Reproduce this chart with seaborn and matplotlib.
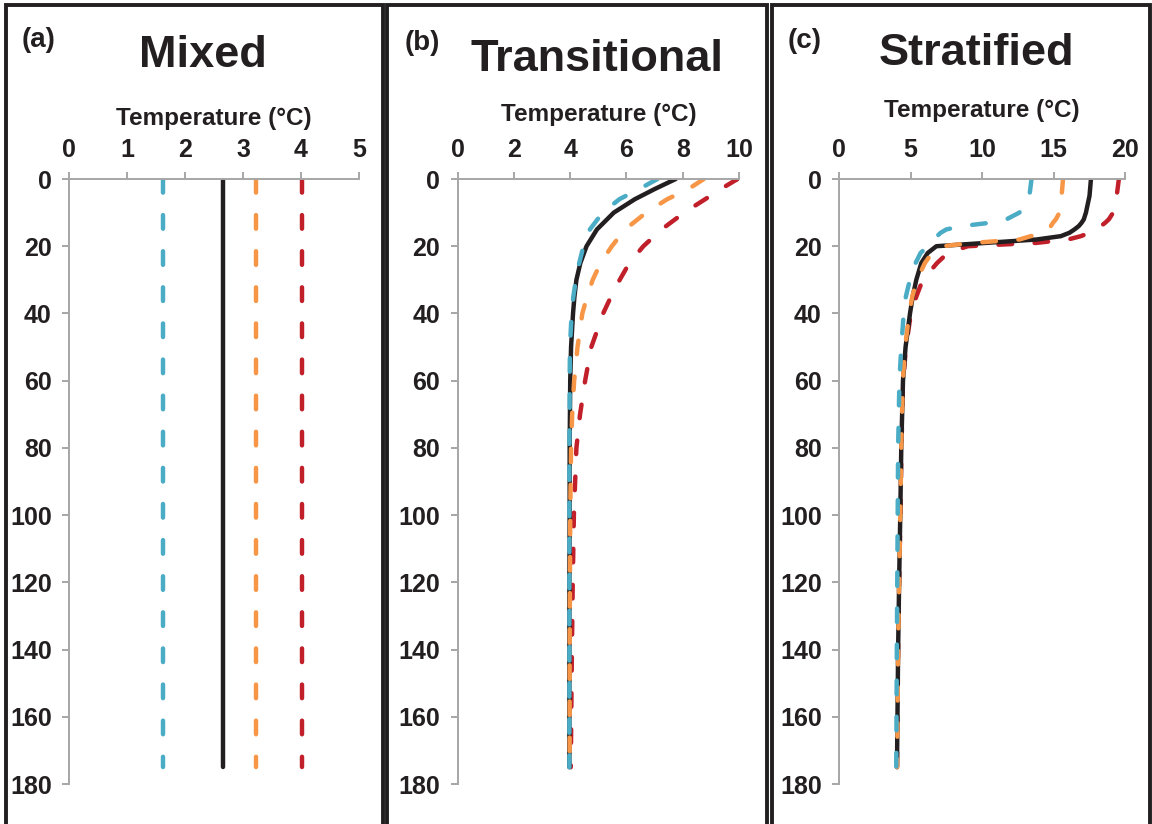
import matplotlib
matplotlib.use("Agg")
import matplotlib.pyplot as plt
from matplotlib.patches import Rectangle
import seaborn as sns

sns.set_theme(style="white")
plt.rcParams['font.family'] = ['Liberation Sans', 'DejaVu Sans']
plt.rcParams['font.weight'] = 'bold'
plt.rcParams['lines.scale_dashes'] = False

# ---------------- data ----------------
titles = ["Mixed", "Transitional", "Stratified"]
panel_labels = ["(a)", "(b)", "(c)"]
xlabel = "Temperature (°C)"
y_ticks = [0, 20, 40, 60, 80, 100, 120, 140, 160, 180]
x_ticks_a = [0, 1, 2, 3, 4, 5]
x_ticks_b = [0, 2, 4, 6, 8, 10]
x_ticks_c = [0, 5, 10, 15, 20]

# Panel (a): mixed
depth_a = [0, 175]
a_blue = [1.62, 1.62]
a_black = [2.65, 2.65]
a_orange = [3.22, 3.22]
a_red = [4.02, 4.02]

# Panel (b): transitional
depth_b = [0, 3, 6, 10, 15, 20, 25, 30, 35, 40, 50, 60, 70, 80, 100, 120, 140, 175]
b_black = [7.75, 7.0, 6.3, 5.55, 4.95, 4.58, 4.36, 4.22, 4.15, 4.1, 4.03, 4.0, 3.99, 3.98, 3.98, 3.97, 3.97, 3.97]
b_blue = [7.1, 6.45, 5.75, 5.15, 4.7, 4.47, 4.32, 4.2, 4.11, 4.05, 3.99, 3.98, 3.98, 3.97, 3.97, 3.97, 3.97, 3.97]
b_orange = [8.75, 8.2, 7.45, 6.7, 5.95, 5.48, 5.08, 4.8, 4.6, 4.43, 4.26, 4.14, 4.07, 4.03, 4.0, 3.99, 3.98, 3.98]
b_red = [9.95, 9.35, 8.8, 8.05, 7.25, 6.6, 6.1, 5.76, 5.45, 5.17, 4.75, 4.53, 4.35, 4.22, 4.13, 4.09, 4.06, 4.02]

# Panel (c): stratified
depth_c = [0, 5, 10, 12, 13, 14, 15, 16, 17, 18, 19, 20, 22, 25, 30, 35, 40, 50, 60, 80, 100, 120, 140, 175]
c_black = [17.6, 17.5, 17.25, 17.1, 16.95, 16.75, 16.45, 16.1, 15.5, 13.8, 10.3, 6.8, 6.2, 5.75, 5.4, 5.15, 4.96, 4.65, 4.47, 4.35, 4.28, 4.2, 4.13, 4.05]
c_blue = [13.45, 13.3, 12.6, 11.7, 10.6, 8.6, 7.5, 7.1, 6.85, 6.6, 6.4, 6.2, 5.7, 5.35, 4.95, 4.67, 4.52, 4.35, 4.22, 4.13, 4.1, 4.07, 4.04, 4.0]
c_orange = [15.65, 15.55, 15.4, 15.15, 14.95, 14.8, 14.6, 14.25, 13.4, 12.6, 9.4, 7.2, 6.5, 6.0, 5.45, 5.12, 4.9, 4.62, 4.46, 4.35, 4.28, 4.2, 4.13, 4.06]
c_red = [19.55, 19.4, 19.15, 18.85, 18.6, 18.3, 17.95, 17.5, 16.9, 16.0, 13.8, 9.0, 7.6, 6.85, 5.85, 5.4, 5.02, 4.68, 4.48, 4.36, 4.29, 4.2, 4.13, 4.05]

# ---------------- style ----------------
C_BLACK = "#231f20"
C_BLUE = "#4bacc6"
C_ORANGE = "#f79646"
C_RED = "#c1202b"
C_AXIS = "#a6a6a6"
LW = 3.2
DASH = (0, (9.8, 16.2))

W, H = 1152.0, 824.0
fig = plt.figure(figsize=(W / 100, H / 100), dpi=100)

def rect(left, right, top=179.0, bottom=784.0):
    return [left / W, 1 - bottom / H, (right - left) / W, (bottom - top) / H]

axes_rects = [rect(69, 359), rect(457.7, 739), rect(839, 1125.3)]
panels = [
    (depth_a, [("red", a_red), ("black", a_black), ("orange", a_orange), ("blue", a_blue)], (0, 5), x_ticks_a),
    (depth_b, [("red", b_red), ("black", b_black), ("orange", b_orange), ("blue", b_blue)], (0, 10), x_ticks_b),
    (depth_c, [("red", c_red), ("black", c_black), ("orange", c_orange), ("blue", c_blue)], (0, 20), x_ticks_c),
]
colors = {"red": C_RED, "black": C_BLACK, "orange": C_ORANGE, "blue": C_BLUE}
labelpads = [9, 12, 15]

for i, (r, (depth, series, xlim, xt)) in enumerate(zip(axes_rects, panels)):
    ax = fig.add_axes(r)
    for name, temps in series:
        sns.lineplot(x=temps, y=depth, sort=False, estimator=None, color=colors[name],
                     lw=LW, ax=ax)
        ln = ax.lines[-1]
        ln.set_solid_capstyle('round')
        ln.set_dash_capstyle('round')
        ln.set_solid_joinstyle('round')
        if name != "black":
            ln.set_linestyle(DASH)
    ax.set_xlim(*xlim)
    ax.set_ylim(180, 0)
    ax.set_xticks(xt)
    ax.set_yticks(y_ticks)
    ax.xaxis.tick_top()
    ax.xaxis.set_label_position('top')
    ax.set_xlabel(xlabel, fontsize=17.5, fontweight='bold', color=C_BLACK, labelpad=labelpads[i])
    ax.set_ylabel("")
    for s in ["right", "bottom"]:
        ax.spines[s].set_visible(False)
    for s in ["left", "top"]:
        ax.spines[s].set_color(C_AXIS)
        ax.spines[s].set_linewidth(1.4)
    ax.tick_params(axis='both', which='major', direction='out', length=5, width=1.4,
                   color=C_AXIS, labelcolor=C_BLACK, labelsize=18, pad=7.5)
    ax.tick_params(axis='x', top=True, bottom=False, labeltop=True, labelbottom=False)
    ax.tick_params(axis='y', left=True)
    for lab in ax.get_xticklabels() + ax.get_yticklabels():
        lab.set_fontweight('bold')
    ax.grid(False)
    ax.set_facecolor('white')

# panel frames
frames = [(6, 383), (387, 767), (772, 1150)]
for x0, x1 in frames:
    fig.add_artist(Rectangle((x0 / W, -0.05), (x1 - x0) / W, 1.05 - 5 / H,
                             transform=fig.transFigure, fill=False, lw=2.8,
                             ec=C_BLACK, clip_on=False))

# titles and panel letters
title_pos = [(203, 67), (597, 71), (977, 65)]
for t, (x, y) in zip(titles, title_pos):
    fig.text(x / W, 1 - y / H, t, ha='center', va='baseline', fontsize=32.5,
             fontweight='bold', color=C_BLACK)
label_pos = [(22, 47), (405, 50), (788, 48)]
for t, (x, y) in zip(panel_labels, label_pos):
    fig.text(x / W, 1 - y / H, t, ha='left', va='baseline', fontsize=20,
             fontweight='bold', color=C_BLACK)

fig.savefig("out.png", dpi=100, facecolor='white')
